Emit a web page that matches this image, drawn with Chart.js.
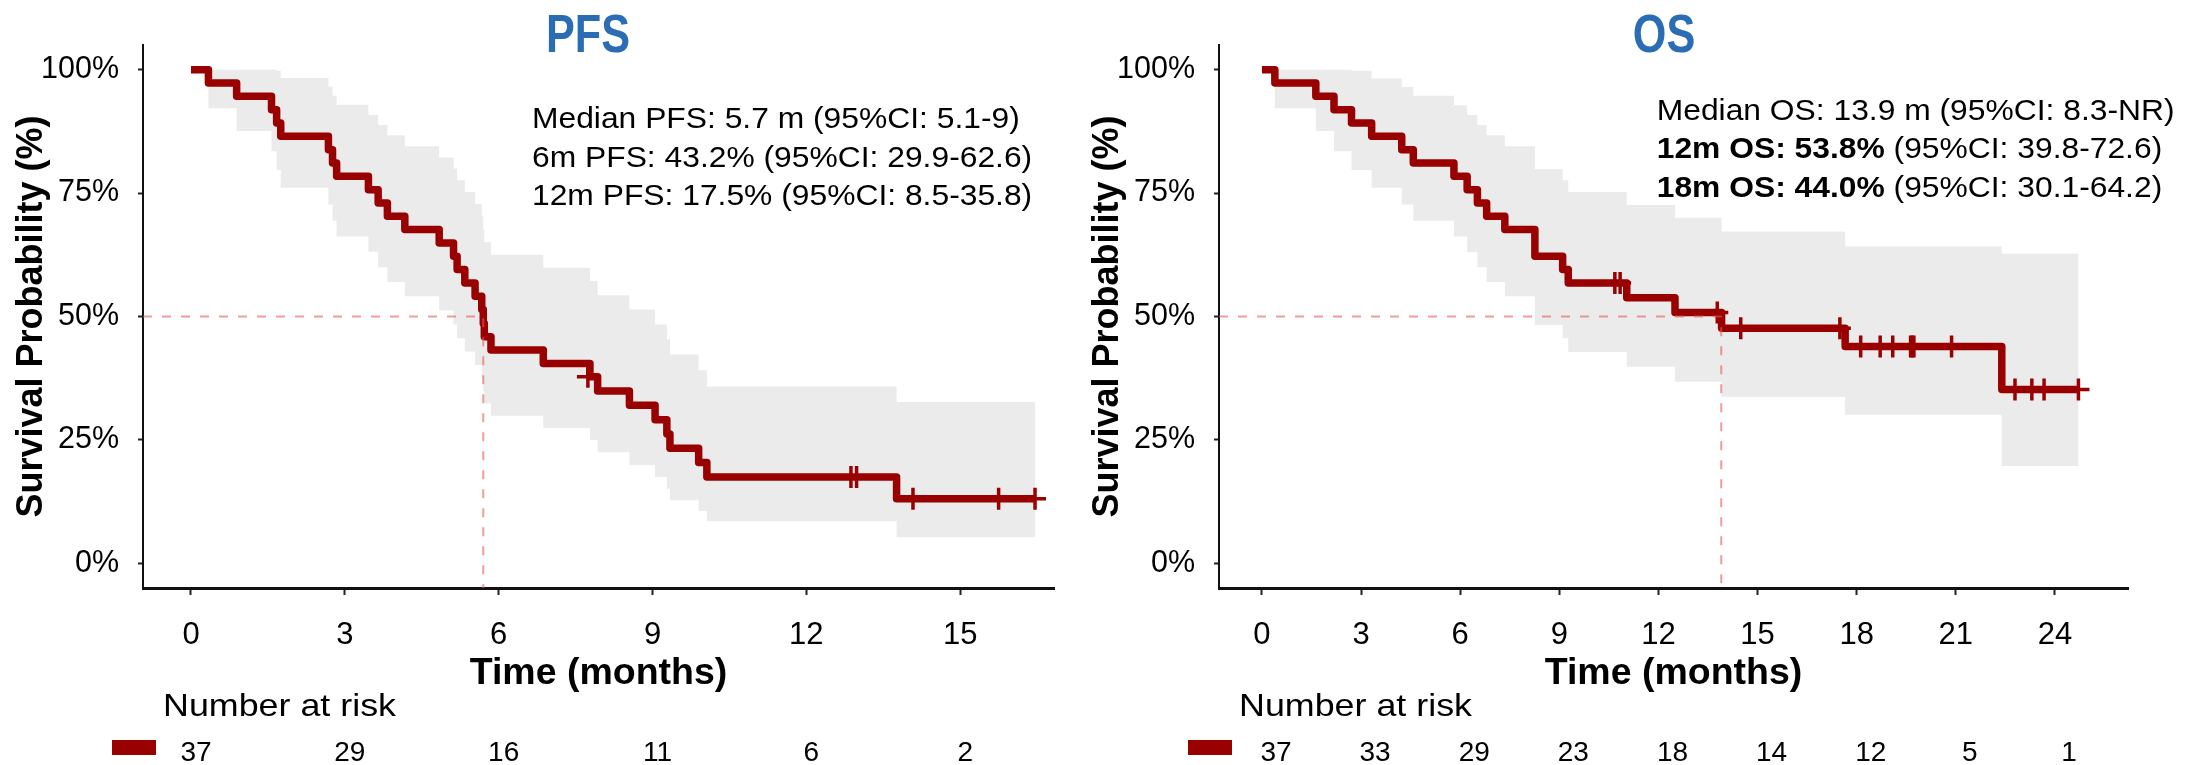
<!DOCTYPE html>
<html><head><meta charset="utf-8">
<script src="https://cdn.jsdelivr.net/npm/chart.js@4.4.1/dist/chart.umd.min.js"></script>
<style>
html,body{margin:0;padding:0;background:#fff;}
body{width:2203px;height:765px;position:relative;overflow:hidden;}
canvas{position:absolute;top:0;}
#pfs{left:0;} #os{left:1076px;}
</style></head><body>
<canvas id="pfs" width="1100" height="765"></canvas>
<canvas id="os" width="1127" height="765"></canvas>
<script>
// ---------- DATA ----------
const yTicks = [0, 25, 50, 75, 100];

// PFS
const pfsTitle = 'PFS';
const pfsXTicks = [0, 3, 6, 9, 12, 15];
const pfsTime  = [0, 0.34, 0.89, 1.57, 1.67, 1.75, 2.68, 2.76, 2.84, 3.46, 3.65, 3.83, 4.17, 4.84, 5.12, 5.19, 5.34, 5.54, 5.67, 5.70, 5.72, 5.85, 6.87, 7.78, 7.93, 8.55, 9.05, 9.28, 9.34, 9.90, 10.06, 13.76, 16.46];
const pfsSurv  = [100, 97.3, 94.6, 91.9, 89.2, 86.5, 83.8, 81.1, 78.4, 75.7, 73.0, 70.3, 67.6, 64.9, 62.2, 59.5, 56.8, 54.1, 51.4, 48.6, 45.9, 43.2, 40.5, 37.8, 34.9, 32.0, 29.1, 26.2, 23.3, 20.4, 17.5, 13.1, 13.1];
const pfsUpper = [100, 100, 100, 100, 99.8, 98.3, 96.6, 94.7, 92.9, 90.8, 88.8, 86.7, 84.5, 82.2, 80.0, 77.6, 75.2, 72.8, 70.3, 67.7, 65.1, 62.5, 59.9, 57.2, 54.3, 51.4, 48.4, 45.4, 42.3, 39.1, 35.8, 32.7, 32.7];
const pfsLower = [100, 92.2, 87.6, 83.5, 79.7, 76.1, 72.7, 69.4, 66.2, 63.1, 60.0, 57.0, 54.1, 51.2, 48.4, 45.6, 42.9, 40.2, 37.6, 34.9, 32.4, 29.9, 27.4, 25.0, 22.5, 19.9, 17.5, 15.1, 12.8, 10.6, 8.5, 5.3, 5.3];
const pfsCensorTime = [7.74, 12.87, 12.98, 14.08, 15.75, 16.46];
const pfsCensorSurv = [37.8, 17.5, 17.5, 13.1, 13.1, 13.1];
const pfsMedian = 5.7;
const pfsNotes = [["", "Median PFS: 5.7 m (95%CI: 5.1-9)"], ["", "6m PFS: 43.2% (95%CI: 29.9-62.6)"], ["", "12m PFS: 17.5% (95%CI: 8.5-35.8)"]];
const pfsRiskTimes = [0, 3, 6, 9, 12, 15];
const pfsRisk = [37, 29, 16, 11, 6, 2];

// OS
const osTitle = 'OS';
const osXTicks = [0, 3, 6, 9, 12, 15, 18, 21, 24];
const osTime  = [0, 0.39, 1.63, 2.18, 2.71, 3.32, 4.23, 4.58, 5.81, 6.21, 6.52, 6.80, 7.35, 8.26, 9.10, 9.27, 11.04, 12.50, 13.91, 17.65, 22.39, 24.71];
const osSurv  = [100, 97.3, 94.6, 91.9, 89.2, 86.5, 83.8, 81.1, 78.4, 75.7, 73.0, 70.3, 67.6, 62.2, 59.5, 56.8, 53.8, 50.8, 47.6, 43.9, 35.2, 35.2];
const osUpper = [100, 100, 100, 100, 99.8, 98.2, 96.5, 94.7, 92.8, 90.8, 88.8, 86.7, 84.5, 79.9, 77.6, 75.2, 72.6, 70.0, 67.2, 64.2, 62.7, 62.7];
const osLower = [100, 92.2, 87.6, 83.5, 79.7, 76.1, 72.7, 69.4, 66.2, 63.0, 60.0, 57.0, 54.1, 48.3, 45.6, 42.8, 39.8, 36.8, 33.7, 30.1, 19.7, 19.7];
const osCensorTime = [10.68, 10.84, 13.78, 14.49, 17.49, 18.12, 18.71, 19.09, 19.63, 19.68, 19.73, 20.87, 22.79, 23.30, 23.67, 24.71];
const osCensorSurv = [56.8, 56.8, 50.8, 47.6, 47.6, 43.9, 43.9, 43.9, 43.9, 43.9, 43.9, 43.9, 35.2, 35.2, 35.2, 35.2];
const osMedian = 13.9;
const osNotes = [["", "Median OS: 13.9 m (95%CI: 8.3-NR)"], ["12m OS: 53.8%", " (95%CI: 39.8-72.6)"], ["18m OS: 44.0%", " (95%CI: 30.1-64.2)"]];
const osRiskTimes = [0, 3, 6, 9, 12, 15, 18, 21, 24];
const osRisk = [37, 33, 29, 23, 18, 14, 12, 5, 1];

// ---------- DRAWING ----------
const FONT = "'Liberation Sans', Arial, Helvetica, sans-serif";
const RED = '#990000';
const Y_MIN = -5, Y_MAX = 105;

function drawText(ctx, text, x, y, font, sx, align) {
  ctx.save();
  ctx.font = font;
  ctx.textBaseline = 'alphabetic';
  ctx.textAlign = align || 'left';
  ctx.translate(x, y);
  ctx.scale(sx, 1);
  ctx.fillText(text, 0, 0);
  const w = ctx.measureText(text).width * sx;
  ctx.restore();
  return w;
}

const kmDecor = {
  id: 'kmDecor',
  afterDraw(chart, args, o) {
    const ctx = chart.ctx, xs = chart.scales.x, area = chart.chartArea;
    ctx.fillStyle = '#2B6DB5';
    drawText(ctx, o.title, o.titleX, 52, `bold 54px ${FONT}`, 0.8, 'center');
    ctx.fillStyle = '#000';
    o.notes.forEach((n, i) => {
      let x = o.noteX;
      const y = o.noteY + i * 38.4;
      if (n[0]) x += drawText(ctx, n[0], x, y, `bold 30px ${FONT}`, 1.06);
      drawText(ctx, n[1], x, y, `30px ${FONT}`, 1.06);
    });
    drawText(ctx, 'Number at risk', area.left + 20, 716, `32px ${FONT}`, 1.12);
    ctx.fillStyle = RED;
    ctx.fillRect(area.left - 31, 740, 44, 15);
    ctx.fillStyle = '#000';
    o.riskTimes.forEach((t, i) => {
      drawText(ctx, String(o.risk[i]), xs.getPixelForValue(t) + o.riskShift, 761, `28px ${FONT}`, 1, 'center');
    });
  }
};

function makeChart(id, d) {
  const pts = (xs, ys) => xs.map((x, i) => ({x: x, y: ys[i]}));
  return new Chart(document.getElementById(id), {
    type: 'line',
    data: { datasets: [
      { data: pts(d.time, d.upper), stepped: 'before', borderWidth: 0, borderColor: 'rgba(0,0,0,0)', pointRadius: 0, fill: false, order: 5 },
      { data: pts(d.time, d.lower), stepped: 'before', borderWidth: 0, borderColor: 'rgba(0,0,0,0)', pointRadius: 0, fill: '-1', backgroundColor: '#EBEBEB', order: 4 },
      { data: pts(d.time, d.surv), stepped: 'before', borderColor: RED, borderWidth: 7.5, borderJoinStyle: 'round', pointRadius: 0, fill: false, order: 2 },
      { data: pts(d.cTime, d.cSurv), showLine: false, pointStyle: 'cross', pointRadius: 11, pointBorderWidth: 3.5, pointBorderColor: RED, pointBackgroundColor: RED, order: 1 },
      { data: [{x: d.xMin, y: 50}, {x: d.median, y: 50}, {x: d.median, y: Y_MIN}], borderColor: 'rgba(230,90,90,0.6)', borderWidth: 2, borderDash: [9, 10], pointRadius: 0, fill: false, order: 0 }
    ]},
    options: {
      responsive: false, animation: false, devicePixelRatio: 1, events: [],
      layout: { autoPadding: false, padding: { left: 0, right: d.padRight, top: 45, bottom: 0 } },
      plugins: {
        legend: { display: false }, tooltip: { enabled: false },
        kmDecor: { title: d.title, titleX: 588, notes: d.notes, noteX: d.noteX, noteY: d.noteY,
                   riskTimes: d.riskTimes, risk: d.risk, riskShift: d.riskShift }
      },
      scales: {
        x: {
          type: 'linear', min: d.xMin, max: d.xMax,
          afterBuildTicks: s => { s.ticks = d.xTicks.map(v => ({value: v})); },
          afterFit: s => { s.height = 177; },
          ticks: { color: '#000', font: { family: FONT, size: 31 }, padding: 22, maxRotation: 0, autoSkip: false, callback: v => String(v) },
          grid: { display: true, drawOnChartArea: false, drawTicks: true, tickLength: 7, tickWidth: 2, tickColor: '#222', color: '#222' },
          border: { display: true, color: '#111', width: 3 },
          title: { display: true, text: 'Time (months)', color: '#000', font: { family: FONT, size: 37.5, weight: 'bold' }, padding: { top: 0, bottom: 68.5 } }
        },
        y: {
          min: Y_MIN, max: Y_MAX,
          afterBuildTicks: s => { s.ticks = yTicks.map(v => ({value: v})); },
          afterFit: s => { s.width = 143; },
          ticks: { color: '#000', font: { family: FONT, size: 30.5 }, padding: 19, callback: v => v + '%' },
          grid: { display: true, drawOnChartArea: false, drawTicks: true, tickLength: 5, tickWidth: 2, tickColor: '#222', color: '#222' },
          border: { display: true, color: '#111', width: 2 },
          title: { display: true, text: 'Survival Probability (%)', color: '#000', font: { family: FONT, size: 36, weight: 'bold' }, padding: { top: 10.4, bottom: 0 } }
        }
      }
    },
    plugins: [kmDecor]
  });
}

makeChart('pfs', {
  title: pfsTitle, time: pfsTime, surv: pfsSurv, upper: pfsUpper, lower: pfsLower,
  cTime: pfsCensorTime, cSurv: pfsCensorSurv, median: pfsMedian, xTicks: pfsXTicks,
  xMin: -0.936, xMax: 16.83, padRight: 46, notes: pfsNotes, noteX: 532, noteY: 128.3,
  riskTimes: pfsRiskTimes, risk: pfsRisk, riskShift: 5
});
makeChart('os', {
  title: osTitle, time: osTime, surv: osSurv, upper: osUpper, lower: osLower,
  cTime: osCensorTime, cSurv: osCensorSurv, median: osMedian, xTicks: osXTicks,
  xMin: -1.30, xMax: 26.21, padRight: 75, notes: osNotes, noteX: 580.7, noteY: 120,
  riskTimes: osRiskTimes, risk: osRisk, riskShift: 14
});
</script></body></html>
